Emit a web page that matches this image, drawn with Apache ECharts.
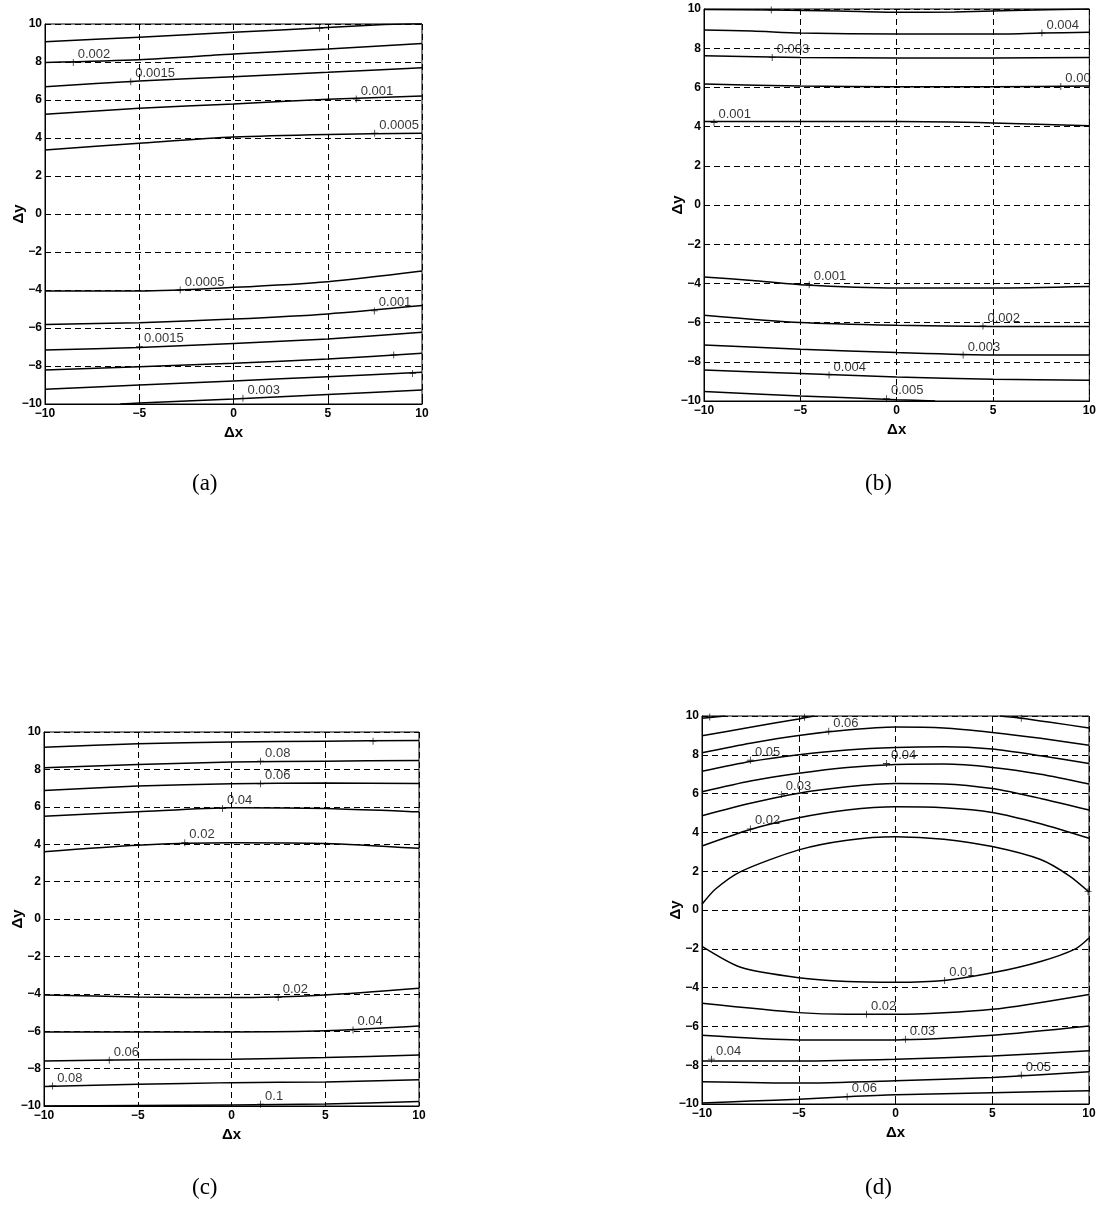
<!DOCTYPE html>
<html><head><meta charset="utf-8">
<script src="https://cdn.jsdelivr.net/npm/echarts@6/dist/echarts.min.js"></script>
<style>html,body{margin:0;padding:0;background:#fff}#c{width:1099px;height:1208px}</style>
</head><body><div id="c"></div>
<script>
// ---------- tick values ----------
const xTicks = [-10, -5, 0, 5, 10];
const yTicks = [-10, -8, -6, -4, -2, 0, 2, 4, 6, 8, 10];
const captions = ['(a)', '(b)', '(c)', '(d)'];

// ---------- panel (a) contour polylines [dx, dy] ----------
const aLines = [
  [[-10,9.07],[-5,9.3],[0,9.56],[5,9.82],[8,9.97],[10,10.02]],
  [[-10,7.98],[-5,8.12],[0,8.42],[5,8.68],[10,8.98]],
  [[-10,6.70],[-5,7.0],[0,7.23],[5,7.46],[10,7.70]],
  [[-10,5.25],[-5,5.56],[0,5.79],[5,6.04],[10,6.21]],
  [[-10,3.37],[-5,3.72],[0,4.05],[5,4.19],[10,4.25]],
  [[-10,-4.05],[-5,-4.05],[0,-3.86],[5,-3.56],[10,-3.0]],
  [[-10,-5.81],[-5,-5.72],[0,-5.53],[5,-5.26],[10,-4.82]],
  [[-10,-7.16],[-5,-7.02],[0,-6.81],[5,-6.58],[10,-6.23]],
  [[-10,-8.21],[-5,-8.04],[0,-7.86],[5,-7.63],[10,-7.33]],
  [[-10,-9.23],[-5,-9.0],[0,-8.79],[5,-8.56],[10,-8.33]],
  [[-6,-10],[-5,-9.95],[0,-9.74],[5,-9.5],[10,-9.26]]
];
// contour labels [dx, dy, text]
const aLabels = [
  [4.57,9.77,''],[-8.5,7.98,'0.002'],[-5.45,6.96,'0.0015'],[6.51,6.05,'0.001'],
  [7.49,4.25,'0.0005'],[-2.83,-4.0,'0.0005'],[7.47,-5.1,'0.001'],[-4.99,-6.98,'0.0015'],
  [8.5,-7.42,''],[9.5,-8.39,''],[0.5,-9.7,'0.003']
];

// ---------- panel (b) ----------
const bLines = [
  [[-10,9.97],[-6.5,9.95],[-3,9.9],[0,9.83],[3,9.85],[6,9.92],[10,10.0]],
  [[-10,8.93],[-7.5,8.88],[-5,8.77],[0,8.72],[5,8.72],[7.5,8.77],[10,8.81]],
  [[-10,7.62],[-5,7.53],[0,7.50],[5,7.50],[10,7.53]],
  [[-10,6.17],[-5,6.07],[0,6.03],[5,6.03],[10,6.07]],
  [[-10,4.26],[-5,4.26],[0,4.26],[5,4.19],[10,4.04]],
  [[-10,-3.67],[-7.5,-3.85],[-5,-4.07],[0,-4.24],[5,-4.24],[10,-4.16]],
  [[-10,-5.62],[-5,-6.0],[0,-6.14],[5,-6.2],[10,-6.2]],
  [[-10,-7.14],[-5,-7.36],[0,-7.53],[5,-7.65],[10,-7.65]],
  [[-10,-8.42],[-5,-8.6],[0,-8.77],[5,-8.89],[10,-8.94]],
  [[-10,-9.52],[-5,-9.74],[0,-9.93],[2,-10]]
];
const bLabels = [
  [-6.51,9.95,''],[7.54,8.77,'0.004'],[-6.46,7.53,'0.003'],[8.52,6.05,'0.00'],
  [-9.48,4.21,'0.001'],[-4.54,-4.07,'0.001'],[4.48,-6.17,'0.002'],[3.45,-7.65,'0.003'],
  [-3.51,-8.67,'0.004'],[-0.53,-9.88,'0.005']
];

// ---------- panel (c) ----------
const cLines = [
  [[-10,9.19],[-5,9.37],[0,9.46],[5,9.51],[10,9.55]],
  [[-10,8.09],[-5,8.26],[0,8.39],[5,8.44],[10,8.48]],
  [[-10,6.87],[-5,7.11],[0,7.23],[5,7.27],[10,7.25]],
  [[-10,5.5],[-5,5.73],[0,5.95],[5,5.91],[10,5.73]],
  [[-10,3.6],[-5,3.95],[0,4.08],[5,4.04],[10,3.78]],
  [[-10,-4.06],[-5,-4.17],[0,-4.2],[5,-4.06],[10,-3.7]],
  [[-10,-6.04],[-5,-6.04],[0,-6.04],[5,-5.98],[10,-5.72]],
  [[-10,-7.59],[-5,-7.53],[0,-7.5],[5,-7.41],[10,-7.27]],
  [[-10,-8.96],[-5,-8.84],[0,-8.75],[5,-8.71],[10,-8.6]],
  [[-10,-10.0],[-5,-9.97],[0,-9.94],[5,-9.89],[10,-9.76]]
];
const cLabels = [
  [7.55,9.51,''],[1.55,8.44,'0.08'],[1.55,7.23,'0.06'],[-0.48,5.91,'0.04'],
  [-2.49,4.08,'0.02'],[2.49,-4.2,'0.02'],[6.48,-5.93,'0.04'],[-6.52,-7.55,'0.06'],
  [-9.54,-8.93,'0.08'],[1.55,-9.9,'0.1']
];

// ---------- panel (d) ----------
const dLines = [
  [[-10,9.88],[-8.8,10]],
  [[-10,8.98],[-7.5,9.42],[-5,9.85],[-4.2,10]],
  [[5.4,10],[6.5,9.89],[8,9.68],[10,9.38]],
  [[-10,8.11],[-7.5,8.6],[-5,9.0],[-2.5,9.28],[0,9.43],[2.5,9.38],[5,9.15],[7.5,8.85],[10,8.49]],
  [[-10,7.15],[-7.5,7.65],[-5,8.0],[-2.5,8.25],[0,8.38],[2.5,8.42],[5,8.3],[7.5,7.95],[10,7.55]],
  [[-10,6.09],[-7.5,6.65],[-5,7.05],[-2.5,7.35],[0,7.5],[2.5,7.52],[5,7.35],[7.5,7.0],[10,6.5]],
  [[-10,4.86],[-7.5,5.5],[-5,6.02],[-2.5,6.35],[0,6.52],[2.5,6.5],[5,6.26],[7.5,5.75],[10,5.15]],
  [[-10,3.30],[-7.5,4.15],[-5,4.75],[-2.5,5.15],[0,5.32],[2.5,5.27],[5,5.03],[7.5,4.45],[10,3.70]],
  [[-10,0.3],[-9.3,1.08],[-8,1.98],[-5,3.1],[-2.5,3.6],[0,3.78],[2.5,3.65],[5,3.27],[7.5,2.6],[9,1.75],[10,0.93]],
  [[-10,-1.87],[-8,-2.95],[-5,-3.49],[-2.5,-3.68],[0,-3.72],[2.5,-3.63],[5,-3.24],[7.5,-2.65],[9.3,-2.0],[10,-1.44]],
  [[-10,-4.81],[-5,-5.29],[-2.5,-5.38],[0,-5.38],[5,-5.12],[10,-4.35]],
  [[-10,-6.46],[-5,-6.70],[0,-6.70],[5,-6.46],[10,-5.98]],
  [[-10,-7.78],[-5,-7.78],[0,-7.69],[5,-7.52],[10,-7.26]],
  [[-10,-8.85],[-5,-8.92],[0,-8.80],[5,-8.63],[10,-8.34]],
  [[-10,-9.95],[-7.5,-9.85],[-5,-9.75],[-2.5,-9.62],[0,-9.52],[5,-9.42],[10,-9.32]]
];
const dLabels = [
  [-9.6,9.95,''],[-4.7,9.94,''],[6.5,9.89,''],[-3.45,9.22,'0.06'],[-7.5,7.72,'0.05'],
  [-0.47,7.55,'0.04'],[-5.9,5.95,'0.03'],[-7.5,4.18,'0.02'],[2.54,-3.63,'0.01'],
  [9.95,0.96,''],[-1.5,-5.38,'0.02'],[0.51,-6.66,'0.03'],[-9.51,-7.69,'0.04'],
  [6.5,-8.51,'0.05'],[-2.5,-9.62,'0.06']
];

// ---------- layout ----------
const grids = [
  {left:45, top:24, width:377, height:380},
  {left:704, top:9, width:388, height:392},
  {left:44, top:732, width:375, height:374},
  {left:702, top:716, width:387, height:388}
];
const captionPos = [[207,486],[880,486],[207,1190],[880,1190]];
const panels = [[aLines,aLabels],[bLines,bLabels],[cLines,cLabels],[dLines,dLabels]];

const FONT = 'Liberation Sans, Arial, sans-serif';
const fmt = v => String(v).replace('-', '\u2212');
const plus = 'path://M0,4.4H10V5.6H0Z M4.4,0H5.6V10H4.4Z';

const xAxes = [], yAxes = [], series = [], graphic = [];
grids.forEach((g, i) => {
  xAxes.push({
    gridIndex:i, type:'value', min:xTicks[0], max:xTicks[xTicks.length-1], interval:5,
    name:'\u0394x', nameLocation:'middle', nameGap:21,
    nameTextStyle:{fontFamily:FONT, fontSize:15, fontWeight:'bold', color:'#000'},
    axisLine:{show:true, onZero:false, lineStyle:{color:'#000', width:1}},
    axisTick:{show:true, inside:true, length:4, lineStyle:{color:'#000'}},
    axisLabel:{margin:4, fontFamily:FONT, fontSize:12, fontWeight:'bold', color:'#000', formatter:fmt},
    splitLine:{show:true, lineStyle:{color:'#000', width:1, type:[6,4]}}
  });
  yAxes.push({
    gridIndex:i, type:'value', min:yTicks[0], max:yTicks[yTicks.length-1], interval:2,
    name:'\u0394y', nameLocation:'middle', nameGap:19, nameRotate:90, nameMoveOverlap:false,
    nameTextStyle:{fontFamily:FONT, fontSize:15, fontWeight:'bold', color:'#000'},
    axisLine:{show:true, onZero:false, lineStyle:{color:'#000', width:1}},
    axisTick:{show:true, inside:true, length:4, lineStyle:{color:'#000'}},
    axisLabel:{margin:3, fontFamily:FONT, fontSize:12, fontWeight:'bold', color:'#000', formatter:fmt},
    splitLine:{show:true, lineStyle:{color:'#000', width:1, type:[6,4]}}
  });
  const [lines, labels] = panels[i];
  lines.forEach(pts => series.push({
    type:'line', xAxisIndex:i, yAxisIndex:i, data:pts, symbol:'none',
    smooth:0.25, clip:true, silent:true,
    lineStyle:{color:'#000', width:1.5}
  }));
  series.push({
    type:'scatter', xAxisIndex:i, yAxisIndex:i, data:labels, symbol:plus, symbolSize:7,
    itemStyle:{color:'#000'}, clip:false, silent:true, z:5,
    label:{show:true, position:'right', distance:1, offset:[0,-8],
      formatter:p => p.value[2], fontFamily:FONT, fontSize:13, color:'#000'}
  });
  graphic.push({type:'text', left:captionPos[i][0]-15, top:captionPos[i][1]-14,
    style:{text:captions[i], font:'23px "Liberation Serif", "DejaVu Serif", serif', fill:'#000'}});
});

const chart = echarts.init(document.getElementById('c'), null, {renderer:'canvas'});
chart.setOption({
  backgroundColor:'#fff', animation:false,
  grid: grids.map(g => Object.assign({show:true, borderColor:'#000', borderWidth:1, backgroundColor:'transparent'}, g)),
  xAxis:xAxes, yAxis:yAxes, series:series, graphic:graphic
});
</script></body></html>
